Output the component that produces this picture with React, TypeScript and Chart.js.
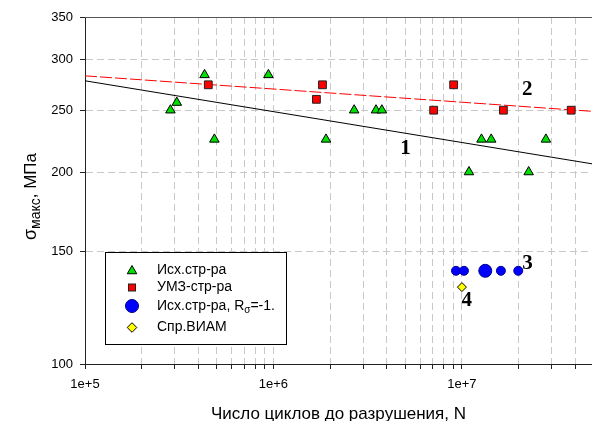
import React, { useEffect, useRef } from 'react';
import { Chart, registerables } from 'chart.js';

Chart.register(...registerables);

// ---- data ----
const xTickValues = [
  1e5, 2e5, 3e5, 4e5, 5e5, 6e5, 7e5, 8e5, 9e5,
  1e6, 2e6, 3e6, 4e6, 5e6, 6e6, 7e6, 8e6, 9e6,
  1e7, 2e7, 3e7, 4e7,
];
const xLabeled = [1e5, 1e6, 1e7];
const yTickValues = [100, 150, 200, 250, 300, 350];

// Исх.стр-ра (triangles)
const triN = [2.84e5, 3.07e5, 4.31e5, 4.86e5, 9.4e5, 1.9e6, 2.68e6, 3.5e6, 3.76e6, 1.09e7, 1.27e7, 1.43e7, 2.26e7, 2.79e7];
const triS = [250, 257, 284, 225, 284, 225, 250, 250, 250, 200, 225, 225, 200, 225];
// УМЗ-стр-ра (squares)
const sqN = [4.51e5, 1.69e6, 1.82e6, 7.08e6, 9.04e6, 1.66e7, 3.8e7];
const sqS = [274, 260, 274, 250, 274, 250, 250];
// Исх.стр-ра, Rσ=-1. (circles)
const circN = [9.3e6, 1.025e7, 1.33e7, 1.61e7, 1.99e7];
const circS = [140, 140, 140, 140, 140];
// Спр.ВИАМ (diamond)
const diaN = [1.0e7];
const diaS = [132];
// curve 1 (solid black) and curve 2 (red dashed)
const line1N = [1e5, 4.9e7];
const line1S = [278, 206];
const line2N = [1e5, 4.9e7];
const line2S = [283, 249];

// curve number labels
const labelText = ['1', '2', '3', '4'];
const labelN = [5.02e6, 2.22e7, 2.23e7, 1.06e7];
const labelS = [218, 269, 143.9, 125.6];

const legendLabels = ['Исх.стр-ра', 'УМЗ-стр-ра', 'Исх.стр-ра, R', 'Спр.ВИАМ'];

const pts = (xs: number[], ys: number[]) => xs.map((x, i) => ({ x, y: ys[i] }));

const SANS = '"Liberation Sans", Arial, sans-serif';
const SERIF = '"Liberation Serif", "Times New Roman", serif';

const overlayPlugin = {
  id: 'overlay',
  afterDraw(chart: any) {
    const { ctx, chartArea: ca, scales } = chart;
    const xs = scales.x;
    const ys = scales.y;
    ctx.save();

    // top border
    ctx.strokeStyle = '#555';
    ctx.lineWidth = 1;
    ctx.beginPath();
    ctx.moveTo(ca.left, Math.round(ca.top) + 0.5);
    ctx.lineTo(ca.right, Math.round(ca.top) + 0.5);
    ctx.stroke();

    // legend box
    const bx = 105.5, by = 252.5, bw = 181, bh = 92;
    ctx.fillStyle = '#fff';
    ctx.fillRect(bx, by, bw, bh);
    ctx.strokeStyle = '#000';
    ctx.strokeRect(bx, by, bw, bh);

    const mx = 132;
    const rows = [270, 287.5, 306, 327.5];
    ctx.lineWidth = 1;
    ctx.strokeStyle = '#000';
    // triangle
    {
      const r = 5.5, y = rows[0] + 1;
      ctx.beginPath();
      ctx.moveTo(mx, y - r);
      ctx.lineTo(mx + r * 0.866, y + r / 2);
      ctx.lineTo(mx - r * 0.866, y + r / 2);
      ctx.closePath();
      ctx.fillStyle = '#00e000';
      ctx.fill();
      ctx.stroke();
    }
    // square
    {
      const s = 7, y = rows[1];
      ctx.fillStyle = '#ff0000';
      ctx.fillRect(mx - s / 2, y - s / 2, s, s);
      ctx.strokeStyle = '#222';
      ctx.strokeRect(mx - s / 2, y - s / 2, s, s);
    }
    // circle
    {
      ctx.beginPath();
      ctx.arc(mx, rows[2], 6.5, 0, Math.PI * 2);
      ctx.fillStyle = '#0000ff';
      ctx.fill();
      ctx.strokeStyle = '#00008b';
      ctx.stroke();
    }
    // diamond
    {
      const r = 4.8, y = rows[3];
      ctx.beginPath();
      ctx.moveTo(mx, y - r);
      ctx.lineTo(mx + r, y);
      ctx.lineTo(mx, y + r);
      ctx.lineTo(mx - r, y);
      ctx.closePath();
      ctx.fillStyle = '#ffff00';
      ctx.fill();
      ctx.strokeStyle = '#000';
      ctx.stroke();
    }

    ctx.fillStyle = '#000';
    ctx.font = `14px ${SANS}`;
    ctx.textAlign = 'left';
    ctx.textBaseline = 'middle';
    const tx = 157;
    ctx.fillText(legendLabels[0], tx, rows[0]);
    ctx.fillText(legendLabels[1], tx, rows[1]);
    ctx.fillText(legendLabels[2], tx, rows[2]);
    const w = ctx.measureText(legendLabels[2]).width;
    ctx.font = `10px ${SANS}`;
    ctx.fillText('σ', tx + w, rows[2] + 4);
    const ws = ctx.measureText('σ').width;
    ctx.font = `14px ${SANS}`;
    ctx.fillText('=-1.', tx + w + ws, rows[2]);
    ctx.fillText(legendLabels[3], tx, rows[3]);

    // curve labels
    ctx.font = `bold 21px ${SERIF}`;
    ctx.textAlign = 'center';
    ctx.textBaseline = 'middle';
    labelText.forEach((t, i) => {
      ctx.fillText(t, xs.getPixelForValue(labelN[i]), ys.getPixelForValue(labelS[i]));
    });

    // x title
    ctx.font = `17px ${SANS}`;
    ctx.textAlign = 'center';
    ctx.textBaseline = 'alphabetic';
    ctx.fillText('Число циклов до разрушения, N', (ca.left + ca.right) / 2, 419);

    // y title
    ctx.save();
    ctx.translate(36, (ca.top + ca.bottom) / 2 + 6);
    ctx.rotate(-Math.PI / 2);
    const p1 = 'σ', p2 = 'макс', p3 = ', МПа';
    ctx.font = `18px ${SANS}`;
    const w1 = ctx.measureText(p1).width;
    ctx.font = `14px ${SANS}`;
    const w2 = ctx.measureText(p2).width;
    ctx.font = `17px ${SANS}`;
    const w3 = ctx.measureText(p3).width;
    let sx = -(w1 + w2 + w3) / 2;
    ctx.textAlign = 'left';
    ctx.font = `18px ${SANS}`;
    ctx.fillText(p1, sx, 0);
    sx += w1;
    ctx.font = `14px ${SANS}`;
    ctx.fillText(p2, sx, 4);
    sx += w2;
    ctx.font = `17px ${SANS}`;
    ctx.fillText(p3, sx, 0);
    ctx.restore();

    ctx.restore();
  },
};

export default function App() {
  const ref = useRef<HTMLCanvasElement>(null);

  useEffect(() => {
    if (!ref.current) return;
    const chart = new Chart(ref.current, {
      type: 'scatter',
      data: {
        datasets: [
          {
            label: 'line1',
            data: pts(line1N, line1S),
            showLine: true,
            borderColor: '#000',
            borderWidth: 1,
            pointRadius: 0,
            order: 5,
          },
          {
            label: 'line2',
            data: pts(line2N, line2S),
            showLine: true,
            borderColor: '#ff0000',
            borderWidth: 1,
            borderDash: [12, 3],
            pointRadius: 0,
            order: 4,
          },
          {
            label: 'Исх.стр-ра',
            data: pts(triN, triS),
            pointStyle: 'triangle',
            pointRadius: 5.5,
            backgroundColor: '#00e000',
            borderColor: '#000',
            borderWidth: 1,
            order: 1,
          },
          {
            label: 'УМЗ-стр-ра',
            data: pts(sqN, sqS),
            pointStyle: 'rect',
            pointRadius: 5.5,
            backgroundColor: '#ff0000',
            borderColor: '#222',
            borderWidth: 1,
            order: 1,
          },
          {
            label: 'Исх.стр-ра, Rσ=-1.',
            data: pts(circN, circS),
            pointStyle: 'circle',
            pointRadius: [4.5, 4.5, 6.5, 4.5, 4.5],
            backgroundColor: '#0000ff',
            borderColor: '#00008b',
            borderWidth: 1,
            order: 1,
          },
          {
            label: 'Спр.ВИАМ',
            data: pts(diaN, diaS),
            pointStyle: 'rectRot',
            pointRadius: 4.5,
            backgroundColor: '#ffff00',
            borderColor: '#000',
            borderWidth: 1,
            order: 1,
          },
        ],
      },
      options: {
        animation: false,
        responsive: false,
        layout: { autoPadding: false, padding: { top: 17, left: 0, right: 0, bottom: 0 } },
        plugins: { legend: { display: false }, tooltip: { enabled: false } },
        scales: {
          x: {
            type: 'logarithmic',
            min: 1e5,
            max: 4.9e7,
            afterFit: (s: any) => { s.height = 57; },
            afterBuildTicks: (s: any) => { s.ticks = xTickValues.map((v) => ({ value: v })); },
            ticks: {
              autoSkip: false,
              maxRotation: 0,
              minRotation: 0,
              padding: 8,
              color: '#000',
              font: { family: SANS, size: 13 },
              callback: (v: any) => (xLabeled.includes(Number(v)) ? Number(v).toExponential() : ''),
            },
            grid: { color: '#c8c8c8', lineWidth: 1, tickColor: '#222', tickLength: 5, tickBorderDash: [] },
            border: { color: '#222', width: 1, dash: [7, 4] },
          },
          y: {
            type: 'logarithmic',
            min: 100,
            max: 350,
            afterFit: (s: any) => { s.width = 85; },
            afterBuildTicks: (s: any) => { s.ticks = yTickValues.map((v) => ({ value: v })); },
            ticks: {
              autoSkip: false,
              padding: 7,
              color: '#000',
              font: { family: SANS, size: 13 },
              callback: (v: any) => String(v),
            },
            grid: { color: '#c8c8c8', lineWidth: 1, tickColor: '#222', tickLength: 5, tickBorderDash: [] },
            border: { color: '#222', width: 1, dash: [7, 4] },
          },
        },
      },
      plugins: [overlayPlugin],
    } as any);
    return () => chart.destroy();
  }, []);

  return (
    <div style={{ position: 'fixed', left: 0, top: 0, width: 592, height: 421, background: '#fff' }}>
      <canvas ref={ref} width={592} height={421} style={{ display: 'block' }} />
    </div>
  );
}
